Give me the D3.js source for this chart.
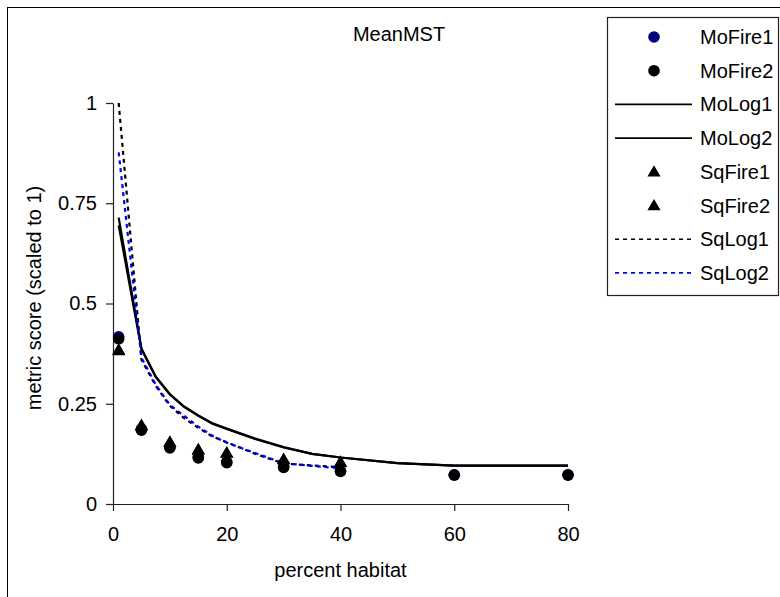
<!DOCTYPE html>
<html>
<head>
<meta charset="utf-8">
<script src="https://cdn.jsdelivr.net/npm/d3@7"></script>
<style>
  html, body { margin: 0; padding: 0; background: #fff; }
  svg { display: block; font-family: "Liberation Sans", Arial, sans-serif; }
</style>
</head>
<body>
<svg id="chart" width="780" height="597"></svg>
<script>
// Habitat percentages at which the simulated fires were scored
const fireX = [1, 5, 10, 15, 20, 30, 40, 60, 80];
const moFire1 = [0.417, 0.186, 0.142, 0.117, 0.105, 0.093, 0.083, 0.073, 0.073];
const moFire2 = [0.412, 0.184, 0.140, 0.115, 0.103, 0.091, 0.081, 0.072, 0.072];

const sqFireX = [1, 5, 10, 15, 20, 30, 40];
const sqFire1 = [0.385, 0.197, 0.155, 0.136, 0.128, 0.112, 0.105];
const sqFire2 = [0.383, 0.195, 0.154, 0.135, 0.127, 0.111, 0.104];

// Fitted curves
const moLogX = [1, 5, 7.5, 10, 12.5, 15, 17.5, 20, 25, 30, 35, 40, 50, 60, 70, 80];
const moLog1 = [0.714, 0.388, 0.318, 0.274, 0.243, 0.221, 0.201, 0.188, 0.163, 0.142, 0.125, 0.116, 0.102, 0.0955, 0.0955, 0.0955];
const moLog2 = [0.695, 0.386, 0.317, 0.273, 0.242, 0.220, 0.200, 0.187, 0.162, 0.141, 0.125, 0.116, 0.102, 0.0955, 0.0955, 0.0955];

const sqLogX = [1, 5, 7.5, 10, 12.5, 15, 17.5, 20, 25, 30, 35, 40];
const sqLog1 = [1.0, 0.360, 0.295, 0.245, 0.214, 0.190, 0.168, 0.154, 0.125, 0.101, 0.096, 0.092];
const sqLog2 = [0.877, 0.365, 0.298, 0.247, 0.220, 0.193, 0.170, 0.153, 0.127, 0.102, 0.095, 0.089];

const xTicks = [0, 20, 40, 60, 80];
const yTicks = [0, 0.25, 0.5, 0.75, 1];

const titleText = "MeanMST";
const xTitle = "percent habitat";
const yTitle = "metric score (scaled to 1)";

const NAVY = "#000080", BLUE = "#0000ff", BLACK = "#000";

const svg = d3.select("#chart");

// outer chart frame
svg.append("rect")
  .attr("x", 7.5).attr("y", 7.5)
  .attr("width", 800).attr("height", 620)
  .attr("fill", "#fff").attr("stroke", "#000").attr("stroke-width", 1);

const x = d3.scaleLinear().domain([0, 80]).range([113, 568]);
const y = d3.scaleLinear().domain([0, 1]).range([504, 103]);

// axes
const xAxis = svg.append("g")
  .attr("transform", `translate(0,${y(0)})`)
  .call(d3.axisBottom(x).tickValues(xTicks).tickSize(7).tickSizeOuter(0).tickPadding(16)
        .tickFormat(d => String(d)));
const yAxis = svg.append("g")
  .attr("transform", `translate(${x(0)},0)`)
  .call(d3.axisLeft(y).tickValues(yTicks).tickSize(7).tickSizeOuter(0).tickPadding(9)
        .tickFormat(d => String(d)));

[xAxis, yAxis].forEach(g => {
  g.select(".domain").attr("stroke", "#222").attr("stroke-width", 1.2);
  g.selectAll(".tick line").attr("stroke", "#222").attr("stroke-width", 1.2);
  g.selectAll(".tick text").attr("font-size", 20).attr("fill", "#000")
    .attr("font-family", "Liberation Sans, Arial, sans-serif");
});

// titles
svg.append("text").attr("x", 399).attr("y", 41).attr("text-anchor", "middle")
  .attr("font-size", 20).text(titleText);
svg.append("text").attr("x", x(40)).attr("y", 577).attr("text-anchor", "middle")
  .attr("font-size", 20).text(xTitle);
svg.append("text").attr("transform", "translate(41,298) rotate(-90)")
  .attr("text-anchor", "middle").attr("font-size", 20).text(yTitle);

// curves
const line = d3.line().x(d => x(d[0])).y(d => y(d[1]));
const zip = (xs, ys) => xs.map((v, i) => [v, ys[i]]);

const lineSeries = [
  { xs: moLogX, ys: moLog1, color: BLACK, dash: null },
  { xs: moLogX, ys: moLog2, color: BLACK, dash: null },
  { xs: sqLogX, ys: sqLog1, color: BLACK, dash: "4,4" },
  { xs: sqLogX, ys: sqLog2, color: BLUE, dash: "4,4" }
];
lineSeries.forEach(s => {
  svg.append("path")
    .attr("d", line(zip(s.xs, s.ys)))
    .attr("fill", "none")
    .attr("stroke", s.color)
    .attr("stroke-width", 2.2)
    .attr("stroke-dasharray", s.dash);
});

// markers
const tri = d3.symbol().type(d3.symbolTriangle).size(75);
function drawCircles(xs, ys, color) {
  svg.append("g").selectAll("circle").data(zip(xs, ys)).join("circle")
    .attr("cx", d => x(d[0])).attr("cy", d => y(d[1])).attr("r", 5.8)
    .attr("fill", color);
}
function drawTriangles(xs, ys, color) {
  svg.append("g").selectAll("path").data(zip(xs, ys)).join("path")
    .attr("d", tri)
    .attr("transform", d => `translate(${x(d[0])},${y(d[1]) + 1})`)
    .attr("fill", color);
}
drawCircles(fireX, moFire1, NAVY);
drawCircles(fireX, moFire2, BLACK);
drawTriangles(sqFireX, sqFire1, BLACK);
drawTriangles(sqFireX, sqFire2, BLACK);

// legend
const legendItems = [
  { name: "MoFire1", kind: "circle", color: NAVY },
  { name: "MoFire2", kind: "circle", color: BLACK },
  { name: "MoLog1", kind: "line", color: BLACK, dash: null },
  { name: "MoLog2", kind: "line", color: BLACK, dash: null },
  { name: "SqFire1", kind: "tri", color: BLACK },
  { name: "SqFire2", kind: "tri", color: BLACK },
  { name: "SqLog1", kind: "line", color: BLACK, dash: "4,4" },
  { name: "SqLog2", kind: "line", color: BLUE, dash: "4,4" }
];
const legend = svg.append("g");
legend.append("rect").attr("x", 607.5).attr("y", 17.5).attr("width", 171).attr("height", 278)
  .attr("fill", "#fff").attr("stroke", "#222").attr("stroke-width", 1.2);
legendItems.forEach((it, i) => {
  const cy = 37 + i * 33.7;
  const g = legend.append("g");
  if (it.kind === "circle") {
    g.append("circle").attr("cx", 654).attr("cy", cy).attr("r", 5.8).attr("fill", it.color);
  } else if (it.kind === "tri") {
    g.append("path").attr("d", tri).attr("transform", `translate(654,${cy + 1})`).attr("fill", it.color);
  } else {
    g.append("line").attr("x1", 615).attr("x2", 692).attr("y1", cy).attr("y2", cy)
      .attr("stroke", it.color).attr("stroke-width", 1.6).attr("stroke-dasharray", it.dash);
  }
  g.append("text").attr("x", 700).attr("y", cy).attr("dy", "0.35em")
    .attr("font-size", 20).text(it.name);
});
</script>
</body>
</html>
